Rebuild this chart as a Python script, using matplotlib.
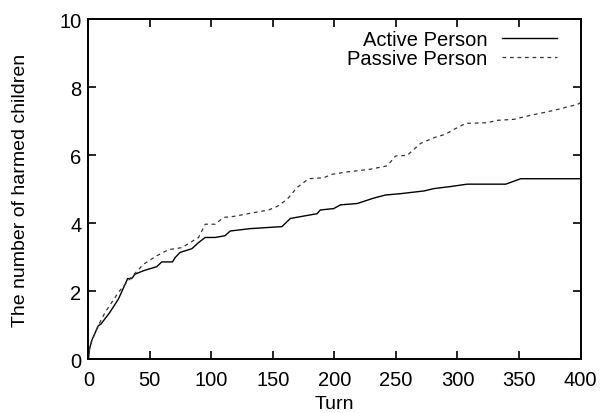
import numpy as np
import matplotlib
matplotlib.use('Agg')
import matplotlib.pyplot as plt

# values
active_x = [0, 1, 2.7, 8.1, 10.3, 17, 24.4, 32, 35.3, 38, 44.8, 55.6, 59.7, 68.4, 70.6,
            74.6, 84.2, 89.6, 95, 103, 111, 115.3, 131.6, 157.4, 164.2, 175, 185.9, 188.6,
            199.4, 204.9, 218.5, 232, 241.5, 253.7, 272.8, 281, 294.4, 308, 339.2, 351.4, 400]
active_y = [0, 0.3, 0.54, 0.98, 1.03, 1.35, 1.76, 2.37, 2.37, 2.5, 2.6, 2.72, 2.86, 2.86, 2.99,
            3.14, 3.25, 3.43, 3.58, 3.58, 3.63, 3.77, 3.84, 3.9, 4.14, 4.21, 4.28, 4.39,
            4.43, 4.54, 4.58, 4.74, 4.83, 4.87, 4.95, 5.02, 5.08, 5.15, 5.15, 5.31, 5.31]

passive_x = [0, 1, 3, 8, 13.6, 24.4, 32.3, 44.8, 55.6, 65.1, 76, 89.6, 95, 103, 110, 118,
             134.3, 146.5, 153.3, 161.5, 169.6, 179.1, 191.3, 198.1, 210.3, 229.3, 242.9,
             249.7, 259.2, 270, 281, 290.3, 297, 306.6, 324.3, 332.4, 346, 359.5, 370.4,
             381.3, 397.6, 400]
passive_y = [0, 0.3, 0.55, 0.98, 1.37, 1.96, 2.3, 2.79, 3.04, 3.22, 3.28, 3.58, 3.97, 3.97,
             4.17, 4.2, 4.31, 4.39, 4.49, 4.7, 5.05, 5.31, 5.34, 5.44, 5.51, 5.59, 5.69,
             5.98, 6.0, 6.35, 6.52, 6.62, 6.76, 6.94, 6.96, 7.03, 7.06, 7.18, 7.26,
             7.35, 7.5, 7.55]

x_ticks = [0, 50, 100, 150, 200, 250, 300, 350, 400]
y_ticks = [0, 2, 4, 6, 8, 10]

plt.rcParams['font.family'] = ['Liberation Sans', 'DejaVu Sans']
plt.rcParams['font.size'] = 14

fig = plt.figure(figsize=(6.02, 4.14), dpi=100)
ax = fig.add_axes([0.1467, 0.1304, 0.8176, 0.8201])

ax.plot(active_x, active_y, color='black', lw=1.0, label='Active Person')
ax.plot(passive_x, passive_y, color='#333333', lw=0.9, dashes=(3, 3), label='Passive Person')

ax.set_xlim(0, 400)
ax.set_ylim(0, 10)
ax.set_xticks(x_ticks)
ax.set_yticks(y_ticks)
ax.tick_params(direction='in', length=6, width=1.2, top=True, right=True, labelsize=14.5)
ax.tick_params(axis='x', pad=8)
ax.tick_params(axis='y', pad=5)
for s in ax.spines.values():
    s.set_linewidth(1.4)

ax.set_xlabel('Turn', fontsize=14, labelpad=4)
ax.set_ylabel('The number of harmed children', fontsize=14, labelpad=22)

ax.legend(loc='upper right', bbox_to_anchor=(0.952, 0.969), frameon=False, markerfirst=False,
          handlelength=2.75, handletextpad=0.7, labelspacing=0.0, borderpad=0, borderaxespad=0,
          fontsize=14.5)

fig.savefig('out.png', dpi=100)
